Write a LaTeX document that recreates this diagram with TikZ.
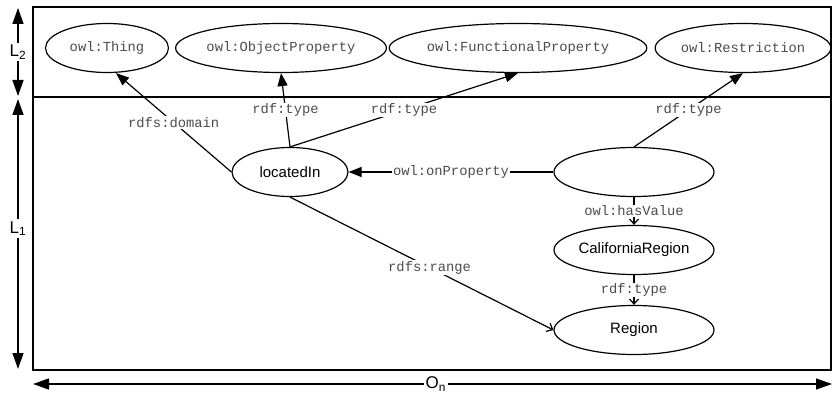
\documentclass[tikz,border=0pt]{standalone}
\usepackage{fontspec}
\setmainfont{Liberation Sans}
\setmonofont{Liberation Mono}
\usetikzlibrary{positioning,calc,arrows.meta,shapes.geometric}
\tikzset{cls/.style={draw,ellipse,line width=1.2pt,minimum height=49pt,inner sep=0pt,text=black!70,font=\fontsize{13.8}{15}\selectfont\ttfamily}  }
\tikzset{inst/.style={draw,ellipse,line width=1.2pt,minimum height=49pt,inner sep=0pt,font=\fontsize{15}{17}\selectfont}  }
\tikzset{lbl/.style={fill=white,inner sep=1pt,text=black!70,font=\fontsize{13.8}{15}\selectfont\ttfamily}  }
\tikzset{tri/.style={line width=1.2pt,-{Triangle[length=13pt,width=10pt]}}  }
\tikzset{barb/.style={line width=1.2pt,-{Straight Barb[length=5pt,width=9pt]}}  }
\tikzset{axis/.style={line width=1.3pt,{Triangle[length=16pt,width=11pt]}-{Triangle[length=16pt,width=11pt]}}  }
\tikzset{axlbl/.style={fill=white,inner sep=2pt,font=\fontsize{17}{19}\selectfont}  }

\begin{document}
\begin{tikzpicture}[x=1pt,y=1pt]
	\useasboundingbox (0,0) rectangle (832,394);
	% layers
	\draw[line width=1.2pt] (33,24) rectangle (831,387);
	\draw[line width=1.2pt] (33,297) -- (831,297);
	\coordinate (l2t) at (18,386); \coordinate (l2b) at (18,298);
	\coordinate (l1t) at (18,295); \coordinate (l1b) at (18,25);
	\coordinate (ol) at (33,10); \coordinate (or) at (832,10);
	\draw[axis] (l2t) -- node[axlbl] {L\textsubscript{2}} (l2b);
	\draw[axis] (l1t) -- node[axlbl,pos=0.48] {L\textsubscript{1}} (l1b);
	\draw[axis] (ol) -- node[axlbl,pos=0.504] {O\textsubscript{n}} (or);

	\node[cls,minimum width=123pt] (thing) at (107,346) {owl:Thing};
	\node[cls,minimum width=199pt] (objp) at (281,346) {owl:ObjectProperty};
	\node[cls,minimum width=247pt] (funcp) at (518,346) {owl:FunctionalProperty};
	\node[cls,minimum width=174pt] (restr) at (743,346) {owl:Restriction};

	\node[inst,minimum width=116pt] (loc) at (290,222) {locatedIn};
	\node[inst,minimum width=160pt] (anon) at (634,222) {};
	\node[inst,minimum width=160pt] (calreg) at (634,144) {CaliforniaRegion};
	\node[inst,minimum width=160pt] (region) at (634,64) {Region};

	\draw[tri] (loc.west) -- node[lbl] {rdfs:domain} ($(thing.south)+(9,0)$);
	\draw[tri] (loc.north) -- node[lbl] {rdf:type} (objp.south);
	\draw[tri] (loc.north) -- node[lbl] {rdf:type} (funcp.south);
	\draw[tri] (anon.north) -- node[lbl] {rdf:type} (restr.south);
	\draw[tri] (anon.west) -- node[lbl] {owl:onProperty} (loc.east);
	\draw[barb] (anon.south) -- node[lbl] {owl:hasValue} (calreg.north);
	\draw[barb] (calreg.south) -- node[lbl] {rdf:type} (region.north);
	\draw[barb] (loc.south) -- node[lbl,pos=0.53] {rdfs:range} (region.west);
\end{tikzpicture}
\end{document}
